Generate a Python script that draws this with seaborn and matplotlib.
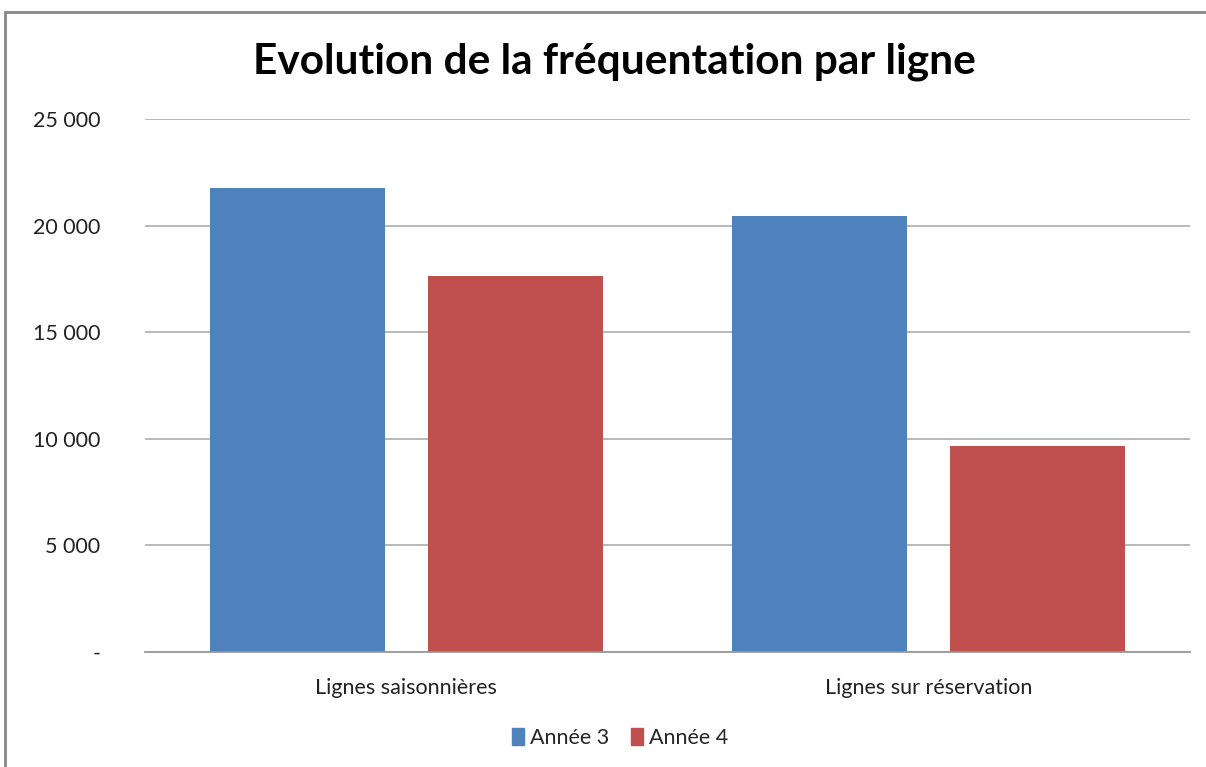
import numpy as np
import pandas as pd
import matplotlib.pyplot as plt
import matplotlib
import seaborn as sns

categories = ["Lignes saisonnières", "Lignes sur réservation"]
series_names = ["Année 3", "Année 4"]
annee3 = [21750, 20450]
annee4 = [17650, 9670]
y_ticks = [0, 5000, 10000, 15000, 20000, 25000]
colors = ["#4F81BD", "#C0504D"]


def fmt_thousands(v, pos=None):
    if v == 0:
        return "-"
    return "{:,.0f}".format(v).replace(",", " ")


df = pd.DataFrame(
    {
        "ligne": categories * 2,
        "annee": [series_names[0]] * 2 + [series_names[1]] * 2,
        "valeur": annee3 + annee4,
    }
)

sns.set_theme(style="white")
plt.rcParams["font.family"] = ["Lato", "DejaVu Sans"]

fig = plt.figure(figsize=(12.06, 7.67), dpi=100)
ax = fig.add_axes([145 / 1206, 1 - 652 / 767, 1045 / 1206, 533 / 767])

sns.barplot(
    data=df,
    x="ligne",
    y="valeur",
    hue="annee",
    palette=colors,
    saturation=1,
    width=0.834,
    gap=0.197,
    linewidth=0,
    ax=ax,
    legend=False,
)

ax.set_xlim(-0.5, 1.5)
ax.set_ylim(0, 25000)
ax.set_yticks(y_ticks)
ax.yaxis.set_major_formatter(matplotlib.ticker.FuncFormatter(fmt_thousands))
ax.yaxis.grid(True, color="#b3b3b3", linewidth=1.3)
ax.set_axisbelow(True)
for s in ["top", "right", "left"]:
    ax.spines[s].set_visible(False)
ax.spines["bottom"].set_color("#999999")
ax.spines["bottom"].set_linewidth(1.3)
ax.tick_params(axis="y", length=0, pad=32, labelsize=15.5, labelcolor="#222222")
ax.tick_params(axis="x", length=0, pad=19, labelsize=15.5, labelcolor="#222222")
ax.set_xlabel("")
ax.set_ylabel("")

fig.text(614 / 1206, 1 - 62 / 767, "Evolution de la fréquentation par ligne",
         ha="center", va="center", fontsize=30.5, fontweight="bold", color="black")

handles = [matplotlib.patches.Patch(color=c, label=n) for c, n in zip(colors, series_names)]
fig.legend(handles=handles, loc="center", bbox_to_anchor=(620 / 1206, 1 - 738 / 767),
           ncol=2, frameon=False, fontsize=15.5, handlelength=0.55, handleheight=0.85,
           handletextpad=0.3, columnspacing=1.0)

# outer chart frame
fig.patches.append(matplotlib.patches.Rectangle(
    (5 / 1206, -0.1), 1.2, 1 - 12 / 767 + 0.1, transform=fig.transFigure,
    fill=False, edgecolor="#888888", linewidth=2))

fig.savefig("out.png", dpi=100)
